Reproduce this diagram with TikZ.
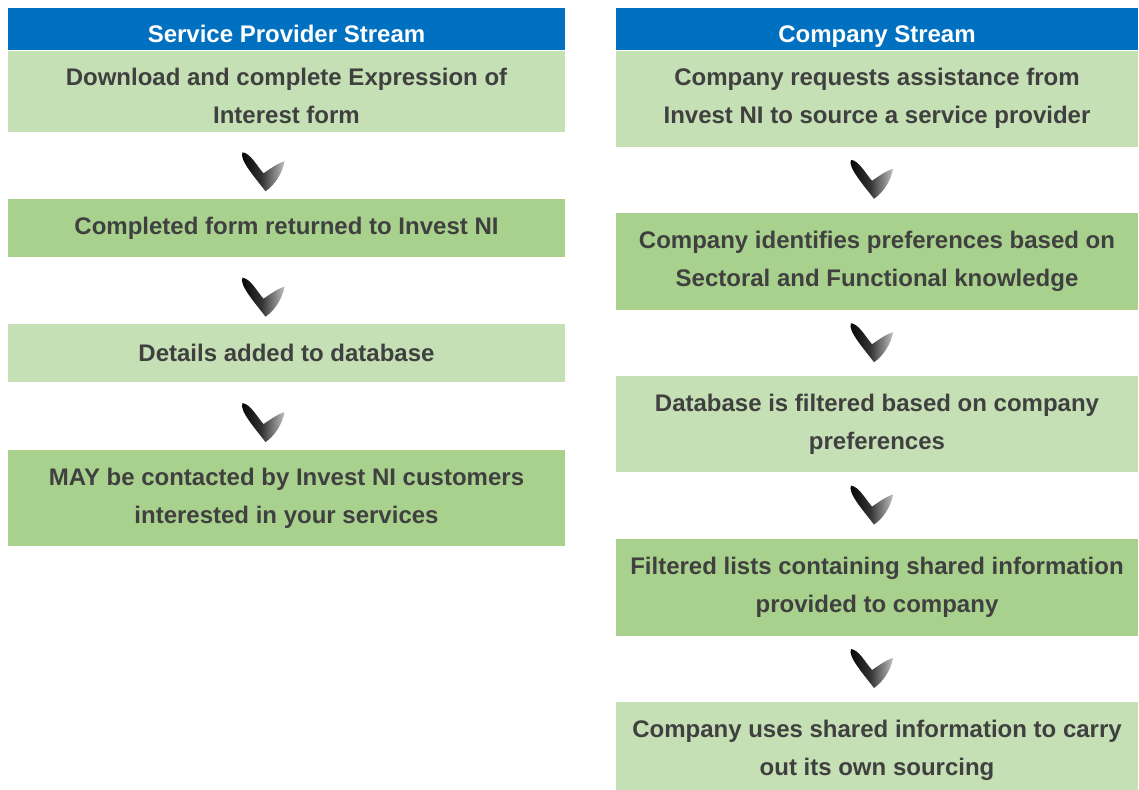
\documentclass[tikz,border=0pt]{standalone}
\usepackage{fontspec}
\setmainfont{Liberation Sans}
\usetikzlibrary{positioning,calc}

\definecolor{headblue}{HTML}{0070C0}
\definecolor{lightgreen}{HTML}{C5E0B4}
\definecolor{darkgreen}{HTML}{A9D18E}
\definecolor{textgray}{HTML}{404040}

\begin{document}
\begin{tikzpicture}[x=1pt,y=-1pt]
  \tikzset{node distance = 67pt,
    streambox/.style = {inner sep=0pt, align=center, anchor=north,
                        font=\fontsize{24}{38}\selectfont\bfseries},
    header/.style    = {streambox, fill=headblue, text=white, minimum height=42pt,
                        text height=26pt, text depth=0pt},
    lightstep/.style = {streambox, fill=lightgreen, text=textgray},
    darkstep/.style  = {streambox, fill=darkgreen, text=textgray},
    leftcol/.style   = {minimum width=557pt},
    rightcol/.style  = {minimum width=522pt},
    chevron/.pic     = {
      \shade[left color=black, right color=gray!50, middle color=black!80]
        (-21,-21) .. controls (-25,-14) and (-7,6) .. (2,18)
        .. controls (11,12) and (19,0) .. (21,-12)
        .. controls (14,-10) and (6,-4) .. (0,0)
        .. controls (-7,-8) and (-13,-20) .. (-21,-21) -- cycle;}}
  \useasboundingbox (0,0) rectangle (1139,789);
  \clip (0,0) rectangle (1139,789);
  % service provider stream
  \node[header, leftcol] (sphead) at (286.5,8) {Service Provider Stream};
  \node[lightstep, leftcol, minimum height=81pt, text height=65.5pt, below=0pt of sphead] (sp1)
    {Download and complete Expression of\\Interest form};
  \node[darkstep, leftcol, minimum height=58pt, below=of sp1] (sp2)
    {Completed form returned to Invest NI};
  \node[lightstep, leftcol, minimum height=58pt, below=of sp2] (sp3)
    {Details added to database};
  \node[darkstep, leftcol, minimum height=96pt, below=of sp3] (sp4)
    {MAY be contacted by Invest NI customers\\interested in your services};
  % company stream
  \node[header, rightcol] (cohead) at (877,8) {Company Stream};
  \node[lightstep, rightcol, minimum height=96pt, below=0pt of cohead] (co1)
    {Company requests assistance from\\Invest NI to source a service provider};
  \node[darkstep, rightcol, minimum height=97pt, below=66pt of co1] (co2)
    {Company identifies preferences based on\\Sectoral and Functional knowledge};
  \node[lightstep, rightcol, minimum height=96pt, below=66pt of co2] (co3)
    {Database is filtered based on company\\preferences};
  \node[darkstep, rightcol, minimum height=97pt, below=66pt of co3] (co4)
    {Filtered lists containing shared information\\provided to company};
  \node[lightstep, rightcol, minimum height=96pt, below=66pt of co4] (co5)
    {Company uses shared information to carry\\out its own sourcing};
  % arrows between steps
  \foreach \a/\b in {sp1/sp2, sp2/sp3, sp3/sp4}
    \pic at ($(\a.south)!.5!(\b.north)+(-23,8)$) {chevron};
  \foreach \a/\b in {co1/co2, co2/co3, co3/co4, co4/co5}
    \pic at ($(\a.south)!.5!(\b.north)+(-5,1)$) {chevron};
\end{tikzpicture}
\end{document}
